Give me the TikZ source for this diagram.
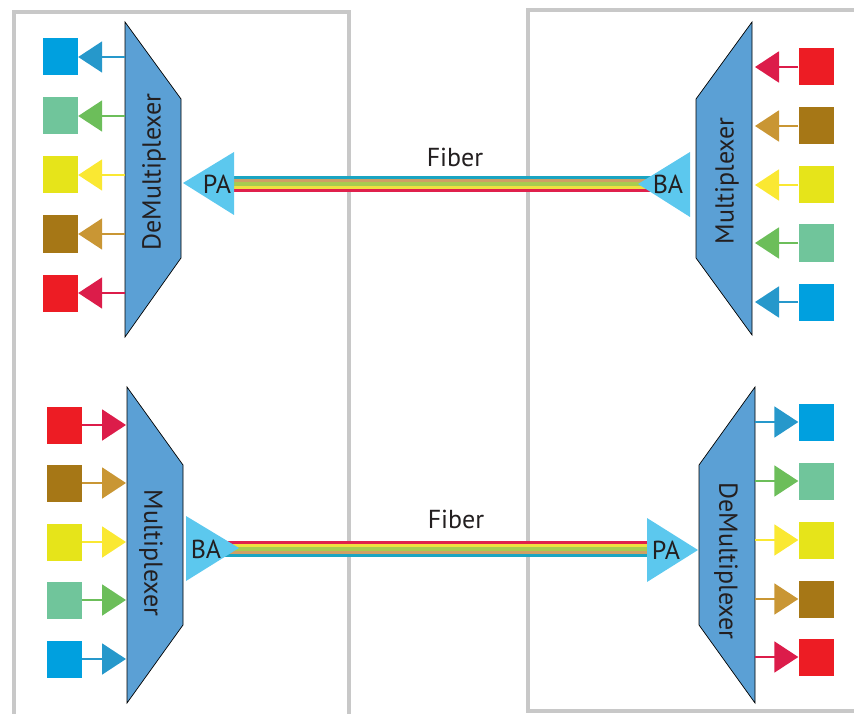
\documentclass[tikz,border=0pt]{standalone}
\usepackage{fontspec}
\setmainfont{PT Sans}
\usetikzlibrary{arrows.meta}
\definecolor{sqBlue}{RGB}{0,160,223}
\definecolor{sqGreen}{RGB}{112,197,155}
\definecolor{sqYellow}{RGB}{230,228,26}
\definecolor{sqBrown}{RGB}{166,119,22}
\definecolor{sqRed}{RGB}{237,28,36}
\definecolor{arBlue}{RGB}{38,152,203}
\definecolor{arGreen}{RGB}{108,190,90}
\definecolor{arYellow}{RGB}{250,232,50}
\definecolor{arBrown}{RGB}{201,150,52}
\definecolor{arRed}{RGB}{220,28,74}
\definecolor{fbBlue}{RGB}{27,165,194}
\definecolor{fbTan}{RGB}{208,160,100}
\definecolor{fbGreen}{RGB}{168,204,80}
\definecolor{fbYellow}{RGB}{240,224,64}
\definecolor{fbRed}{RGB}{224,32,76}
\definecolor{trapFill}{RGB}{91,160,213}
\definecolor{ampFill}{RGB}{92,200,238}
\definecolor{boxGray}{RGB}{200,200,200}
\definecolor{txt}{RGB}{35,31,32}
\tikzset{
  sq/.style={minimum width=35pt,minimum height=37pt,inner sep=0pt,fill=#1},
  conn/.style={draw=#1,line width=2pt,-{Triangle[length=24pt,width=31pt,fill=#1]}},
  trap/.style={fill=trapFill,draw=black,line width=0.7pt,line join=miter},
  amp/.style={fill=ampFill},
  lbl/.style={text=txt,font=\fontsize{26}{26}\selectfont,inner sep=0pt},
  fib/.style={line width=3.2pt},
  panel/.style={draw=boxGray,line width=4pt}
}
\begin{document}
\begin{tikzpicture}[x=1pt,y=-1pt]
\useasboundingbox (0,0) rectangle (854,714);
% panels
\draw[panel] (14,730) -- (14,12) -- (349,12) -- (349,730);
\draw[panel] (870,10) -- (528,10) -- (528,711) -- (870,711);

% ---------- top fiber ----------
\foreach \c/\dy in {fbBlue/177.6,fbTan/180.8,fbGreen/184,fbYellow/187.2,fbRed/190.4}
  \draw[fib,\c] (234,\dy) -- (660,\dy);
\node[lbl] (fiberT) at (455,157) {Fiber};
% ---------- bottom fiber ----------
\foreach \c/\dy in {fbRed/542.6,fbYellow/545.8,fbGreen/549,fbTan/552.2,fbBlue/555.4}
  \draw[fib,\c] (225,\dy) -- (648,\dy);
\node[lbl] (fiberB) at (456,519) {Fiber};

% ---------- top left: DeMultiplexer + PA ----------
\draw[trap] (125,22) -- (181,99) -- (181,258) -- (125,337) -- cycle;
\node[lbl,rotate=90] (demuxTL) at (154,172) {DeMultiplexer};
\fill[amp] (183,183) -- (234,152) -- (234,215) -- cycle;
\node[lbl] (paTL) at (217,184) {PA};
\foreach \n/\y/\s/\a in {1/57/sqBlue/arBlue,2/116/sqGreen/arGreen,3/175/sqYellow/arYellow,4/234/sqBrown/arBrown,5/293/sqRed/arRed}{
  \node[sq=\s] (tl\n) at (60.5,\y) {};
  \coordinate (tle\n) at (125,\y);
  \draw[conn=\a] (tle\n) -- (tl\n.east);
}

% ---------- top right: Multiplexer + BA ----------
\draw[trap] (752,22) -- (696,99) -- (696,258) -- (752,335) -- cycle;
\node[lbl,rotate=90] (muxTR) at (727,181) {Multiplexer};
\fill[amp] (638,184) -- (690,152) -- (690,217) -- cycle;
\node[lbl] (baTR) at (668,184) {BA};
\foreach \n/\y/\s/\a in {1/67/sqRed/arRed,2/126/sqBrown/arBrown,3/185/sqYellow/arYellow,4/243/sqGreen/arGreen,5/302/sqBlue/arBlue}{
  \node[sq=\s] (tr\n) at (816,\y) {};
  \coordinate (tre\n) at (755,\y);
  \draw[conn=\a] (tr\n.west) -- (tre\n);
}

% ---------- bottom left: Multiplexer + BA ----------
\draw[trap] (127,387) -- (183,465) -- (183,625) -- (127,703) -- cycle;
\node[lbl,rotate=-90] (muxBL) at (151,553) {Multiplexer};
\fill[amp] (239,548) -- (186,516) -- (186,581) -- cycle;
\node[lbl] (baBL) at (206,549) {BA};
\foreach \n/\y/\s/\a in {1/425/sqRed/arRed,2/483/sqBrown/arBrown,3/542/sqYellow/arYellow,4/600/sqGreen/arGreen,5/659/sqBlue/arBlue}{
  \node[sq=\s] (bl\n) at (64,\y) {};
  \coordinate (ble\n) at (126,\y);
  \draw[conn=\a] (bl\n.east) -- (ble\n);
}

% ---------- bottom right: DeMultiplexer + PA ----------
\draw[trap] (755,387) -- (699,465) -- (699,625) -- (755,703) -- cycle;
\node[lbl,rotate=-90] (demuxBR) at (726,561) {DeMultiplexer};
\fill[amp] (698,550) -- (647,518) -- (647,582) -- cycle;
\node[lbl] (paBR) at (666,550) {PA};
\foreach \n/\y/\s/\a in {1/422/sqBlue/arBlue,2/481/sqGreen/arGreen,3/540/sqYellow/arYellow,4/599/sqBrown/arBrown,5/657/sqRed/arRed}{
  \node[sq=\s] (br\n) at (816,\y) {};
  \coordinate (bre\n) at (755,\y);
  \draw[conn=\a] (bre\n) -- (br\n.west);
}
\end{tikzpicture}
\end{document}
